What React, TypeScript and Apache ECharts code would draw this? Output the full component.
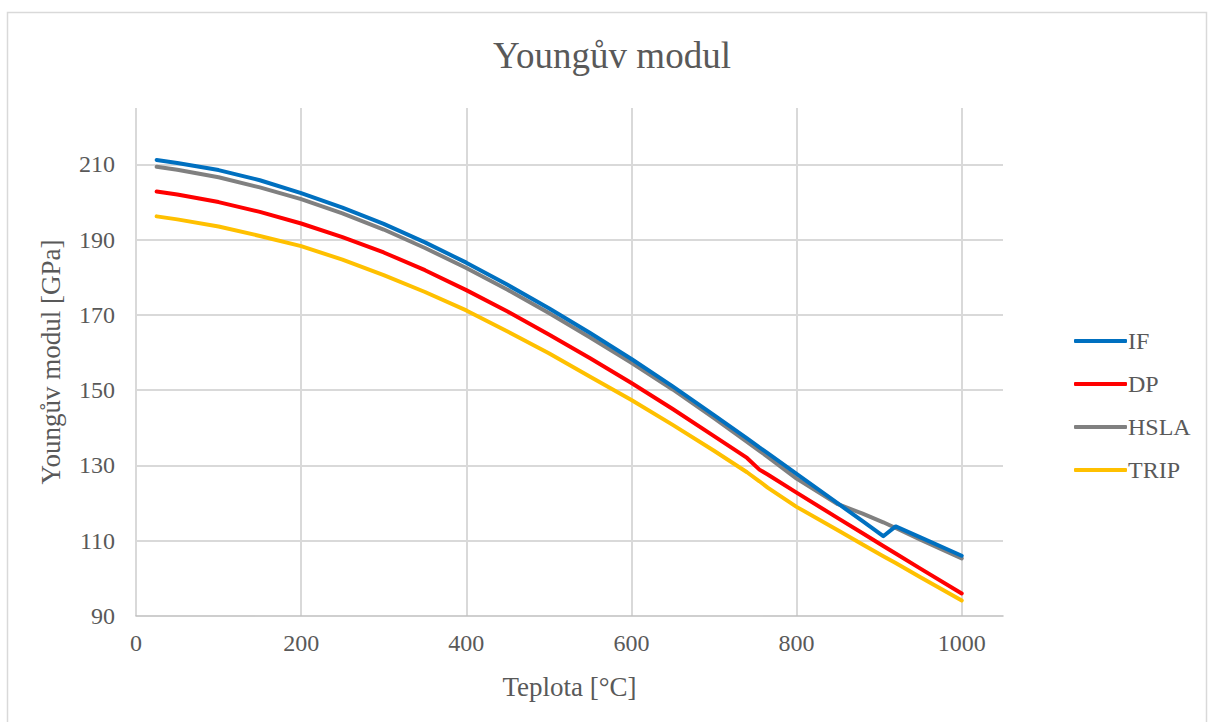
import { useEffect, useRef } from "react";
import * as echarts from "echarts";

// Temperatures [°C] at which Young's modulus is tabulated
const temperatures = [
  25, 50, 100, 150, 200, 250, 300, 350, 400, 450, 500, 550, 600, 650, 700,
  740, 755, 765, 800, 850, 880, 905, 920, 950, 1000,
];

// Young's modulus [GPa] per steel grade
const ifSteel = [
  211.2, 210.4, 208.5, 205.8, 202.4, 198.5, 194.2, 189.3, 183.9, 178.0, 171.8,
  165.2, 158.3, 151.0, 143.4, 137.2, 134.8, 133.3, 127.8, 119.9, 115.2, 111.2,
  113.8, 110.9, 106.0,
];
const dpSteel = [
  202.8, 202.0, 200.0, 197.4, 194.3, 190.7, 186.6, 181.9, 176.6, 170.9, 164.8,
  158.5, 151.9, 145.0, 137.8, 132.0, 128.9, 127.6, 122.8, 116.0, 112.0, 108.6,
  106.6, 102.6, 96.0,
];
const hslaSteel = [
  209.4, 208.6, 206.6, 203.9, 200.8, 197.0, 192.7, 187.8, 182.5, 176.7, 170.5,
  164.0, 157.3, 150.2, 142.6, 136.3, 133.9, 132.3, 126.5, 119.7, 117.2, 114.9,
  113.4, 110.3, 105.3,
];
const tripSteel = [
  196.2, 195.4, 193.5, 191.0, 188.3, 184.7, 180.6, 176.1, 171.2, 165.6, 159.8,
  153.6, 147.4, 140.8, 133.9, 128.2, 125.8, 124.1, 119.0, 112.8, 109.0, 105.9,
  104.1, 100.3, 94.1,
];

const seriesNames = ["IF", "DP", "HSLA", "TRIP"];
const seriesValues = [ifSteel, dpSteel, hslaSteel, tripSteel];
const seriesColors = ["#0070C0", "#FF0000", "#808080", "#FFC000"];

const FONT = "'Liberation Serif', 'Times New Roman', serif";
const TEXT = "#595959";
const GRID = "#d9d9d9";

export default function App() {
  const ref = useRef<HTMLDivElement>(null);

  useEffect(() => {
    if (!ref.current) return;
    const chart = echarts.init(ref.current, null, { renderer: "svg" });

    const series = seriesNames.map((name, i) => ({
      name,
      type: "line",
      data: temperatures.map((t, k) => [t, seriesValues[i][k]]),
      showSymbol: false,
      symbol: "none",
      smooth: false,
      lineStyle: { width: 4, color: seriesColors[i], cap: "round", join: "round" },
      itemStyle: { color: seriesColors[i] },
      z: 10 - i,
    }));

    chart.setOption({
      animation: false,
      backgroundColor: "#ffffff",
      textStyle: { fontFamily: FONT },
      title: {
        text: "Youngův modul",
        left: 607,
        top: 32,
        textAlign: "center",
        textStyle: { fontFamily: FONT, fontSize: 37, fontWeight: "normal", color: TEXT },
      },
      graphic: [
        {
          type: "rect",
          shape: { x: 7.5, y: 12.5, width: 1199, height: 720 },
          style: { fill: "none", stroke: GRID, lineWidth: 1.5 },
          silent: true,
        },
      ],
      legend: {
        orient: "vertical",
        left: 1069,
        top: 324,
        itemWidth: 53,
        itemHeight: 4,
        itemGap: 19,
        icon: "roundRect",
        textStyle: { fontFamily: FONT, fontSize: 24, color: TEXT, lineHeight: 23, padding: [0, 0, 0, -4] },
        data: seriesNames,
      },
      grid: { left: 136, right: 206, top: 108, bottom: 106, containLabel: false },
      xAxis: {
        type: "value",
        min: 0,
        max: 1050,
        interval: 200,
        name: "Teplota [°C]",
        nameLocation: "middle",
        nameGap: 57,
        nameTextStyle: { fontFamily: FONT, fontSize: 27, color: TEXT },
        axisLine: { show: true, lineStyle: { color: "#bfbfbf", width: 1.5 } },
        axisTick: { show: false },
        axisLabel: {
          fontFamily: FONT,
          fontSize: 24,
          color: TEXT,
          margin: 15,
          showMaxLabel: false,
          formatter: (v: number) => String(v),
        },
        splitLine: { show: true, showMaxLine: false, lineStyle: { color: GRID, width: 2 } },
      },
      yAxis: {
        type: "value",
        min: 90,
        max: 225,
        interval: 20,
        name: "Youngův modul [GPa]",
        nameLocation: "middle",
        nameGap: 72,
        nameRotate: 90,
        nameTextStyle: { fontFamily: FONT, fontSize: 27, color: TEXT },
        axisLine: { show: false },
        axisTick: { show: false },
        axisLabel: {
          fontFamily: FONT,
          fontSize: 24,
          color: TEXT,
          margin: 21,
          showMaxLabel: false,
          formatter: (v: number) => String(v),
        },
        splitLine: { show: true, showMinLine: false, showMaxLine: false, lineStyle: { color: GRID, width: 2 } },
      },
      series,
    });

    return () => chart.dispose();
  }, []);

  return (
    <div
      ref={ref}
      style={{ position: "fixed", left: 0, top: 0, width: 1209, height: 722, background: "#fff" }}
    />
  );
}
